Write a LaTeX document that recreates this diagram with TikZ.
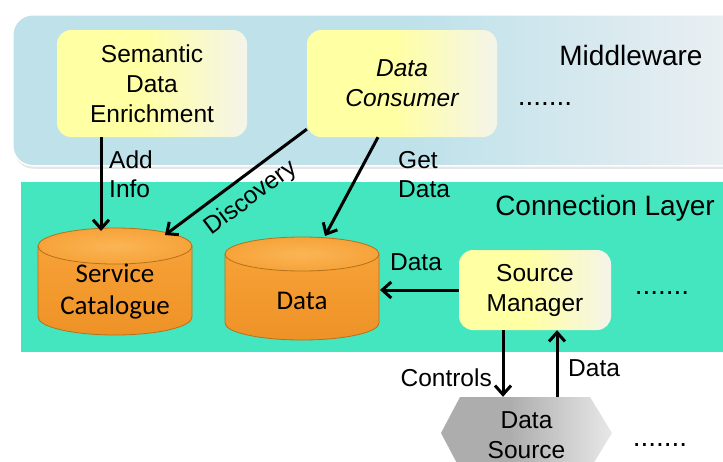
\documentclass[tikz,border=0pt]{standalone}
\usepackage{fontspec}
\setmainfont{Liberation Sans}
\newfontfamily\carl{Carlito}
\usetikzlibrary{arrows.meta,calc,shadows}
\definecolor{mwL}{HTML}{BEE1EA}
\definecolor{mwR}{HTML}{EDF0F3}
\definecolor{conn}{HTML}{44E6BF}
\definecolor{yL}{HTML}{FFFFA4}
\definecolor{yR}{HTML}{F4F4EA}
\definecolor{gL}{HTML}{ADADAD}
\definecolor{gR}{HTML}{E8E8E8}
\definecolor{cyl}{HTML}{F7A137}
\definecolor{cylbot}{HTML}{EE9226}
\definecolor{cyltop}{HTML}{FBB555}
\definecolor{cyltopo}{HTML}{F6A339}
\definecolor{cylline}{HTML}{B5711D}
\pgfdeclarehorizontalshading{yboxsh}{100bp}{color(0bp)=(yL); color(25bp)=(yL); color(48bp)=(yL); color(75bp)=(yR); color(100bp)=(yR)}
\pgfdeclarehorizontalshading{mwsh}{100bp}{color(0bp)=(mwL); color(25bp)=(mwL); color(52bp)=(mwL); color(75bp)=(mwR); color(100bp)=(mwR)}
\pgfdeclarehorizontalshading{gsh}{100bp}{color(0bp)=(gL); color(25bp)=(gL); color(45bp)=(gL); color(75bp)=(gR); color(100bp)=(gR)}
\newcommand\mycyl[5]{%
  \path[top color=cyl, bottom color=cylbot, draw=cylline, line width=0.8pt] (#1-#4,#2) -- (#1-#4,#3)
    arc[start angle=180, end angle=0, x radius=#4, y radius=#5] -- (#1+#4,#2) -- cycle;
  \path[inner color=cyltop, outer color=cyltopo, draw=cylline, line width=0.8pt] (#1,#2) ellipse[x radius=#4, y radius=#5];}
\tikzset{
  ybox/.style={shading=yboxsh, rounded corners=14pt, minimum width=190pt, minimum height=107pt,
    inner sep=0pt, align=center, font=\fontsize{24.5}{30}\selectfont},
  biglbl/.style={font=\fontsize{28}{32}\selectfont, inner sep=0pt},
  lbl/.style={font=\fontsize{24.5}{28}\selectfont, inner sep=0pt},
  cyltext/.style={font=\carl\fontsize{27}{32}\selectfont, align=center, inner sep=0pt},
  arr/.style={line width=3pt, -{Straight Barb[length=9pt, width=16pt, line width=3pt]}},
}
\begin{document}
\begin{tikzpicture}[x=1pt, y=-1pt]
\useasboundingbox (0,0) rectangle (723,461);
\clip (0,0) rectangle (723,461);
% Middleware panel
\node[shading=mwsh, rounded corners=20pt, draw=white, line width=1.5pt,
  drop shadow={opacity=0.2, shadow xshift=1pt, shadow yshift=-3pt},
  minimum width=740pt, minimum height=151pt, inner sep=0pt, anchor=north west] (mw) at (12,14) {};
\node[biglbl] (mwl) at (631,55) {Middleware};
\node[biglbl] (mwdots) at (545,104) {.......};
% Connection layer
\node[fill=conn, minimum width=710pt, minimum height=170pt, inner sep=0pt, anchor=north west] (cl) at (21,182) {};
\node[biglbl] (cll) at (605,208) {Connection Layer};
% boxes
\node[ybox] (se) at (152,83.5) {Semantic\\Data\\Enrichment};
\node[ybox, font=\itshape\fontsize{24.5}{30}\selectfont] (dc) at (402,83.5) {Data\\Consumer};
\node[ybox, minimum width=152pt, minimum height=80pt] (sm) at (535,290) {Source\\Manager};
\node[biglbl] (smdots) at (662,293) {.......};
% cylinders
\mycyl{115}{246}{317}{77}{18}
\node[cyltext] (sc) at (115,292) {Service\\Catalogue};
\mycyl{302}{254}{323}{77}{17}
\node[cyltext] (dt) at (302,301) {Data};
% data source
\path[shading=gsh] (441,433) -- (460,397) -- (590,397) -- (612,433) -- (590,469) -- (460,469) -- cycle;
\node[minimum width=171pt, minimum height=76pt, inner sep=0pt, align=center,
  font=\fontsize{24.5}{30}\selectfont] (ds) at (526.5,435) {Data\\Source};
\node[biglbl] (dsdots) at (660,445) {.......};
% arrow end points
\coordinate (scA) at (101,231);
\coordinate (scB) at (165,235);
\coordinate (dtA) at (325,236);
\coordinate (dtB) at (380,290);
% connectors
\draw[arr] ([xshift=-51pt]se.south) -- (scA);
\node[lbl, anchor=west] (addl) at (109,160) {Add};
\node[lbl, anchor=west] (infol) at (109,189) {Info};
\draw[arr] ([yshift=8pt]dc.south west) -- (scB);
\node[lbl, rotate=36.7] (discl) at (251,198) {Discovery};
\draw[arr] ([xshift=-24pt]dc.south) -- (dtA);
\node[lbl, anchor=west] (getl) at (398,160) {Get};
\node[lbl, anchor=west] (getdl) at (398,189) {Data};
\draw[arr] (sm.west) -- (dtB);
\node[lbl] (smdl) at (416,262) {Data};
\draw[arr] ([xshift=-32pt]sm.south) -- ([xshift=-23.5pt]ds.north);
\node[lbl, anchor=east] (ctll) at (492,378) {Controls};
\draw[arr] ([xshift=30.5pt]ds.north) -- ([xshift=22pt]sm.south);
\node[lbl, anchor=west] (dsdl) at (568,368) {Data};
\end{tikzpicture}
\end{document}
